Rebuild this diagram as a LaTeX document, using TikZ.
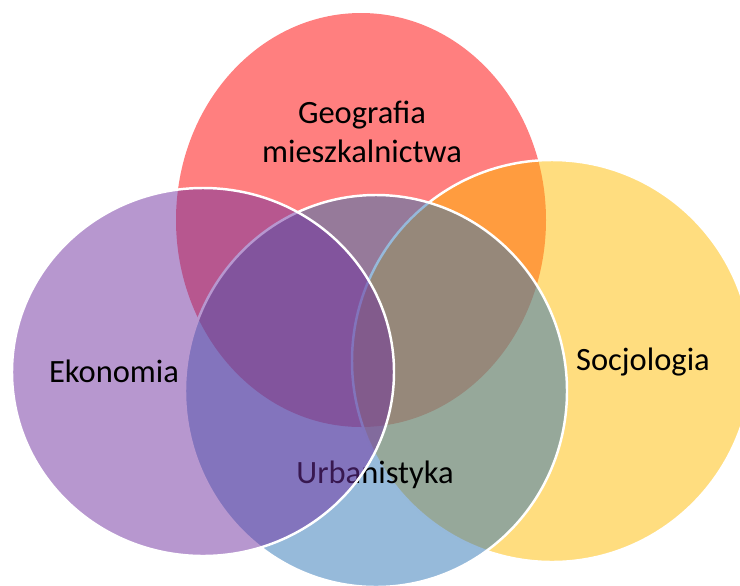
\documentclass[tikz,border=0pt]{standalone}
\usepackage{fontspec}
\setmainfont{Carlito}
\definecolor{geored}{HTML}{FF0000}
\definecolor{socyellow}{HTML}{FFBB00}
\definecolor{urbblue}{HTML}{2E75B6}
\definecolor{ekopurple}{HTML}{7030A0}
\begin{document}
\begin{tikzpicture}[
    x=0.2mm, y=-0.2mm,
    area/.style={fill opacity=0.5, draw=white, line width=1.4pt},
    every node/.style={font=\fontsize{18.5}{22}\selectfont, inner sep=0pt, anchor=base}
]
  \useasboundingbox (0,0) rectangle (740,585);
  \clip (0,0) rectangle (740,585);

  % sets
  \fill[geored, fill opacity=0.5] (361,220) ellipse [x radius=185, y radius=207];
  \node (geo) at (362,123) {Geografia};
  \node (mieszk) at (362,162) {mieszkalnictwa};

  \filldraw[area, fill=socyellow] (552,361) ellipse [x radius=200, y radius=201];
  \node (soc) at (643,370) {Socjologia};

  \filldraw[area, fill=urbblue] (376,391) ellipse [x radius=191, y radius=196];
  \node (urb) at (375,483) {Urbanistyka};

  \filldraw[area, fill=ekopurple] (203,372) ellipse [x radius=191, y radius=184];
  \node (eko) at (114,382) {Ekonomia};
\end{tikzpicture}
\end{document}
